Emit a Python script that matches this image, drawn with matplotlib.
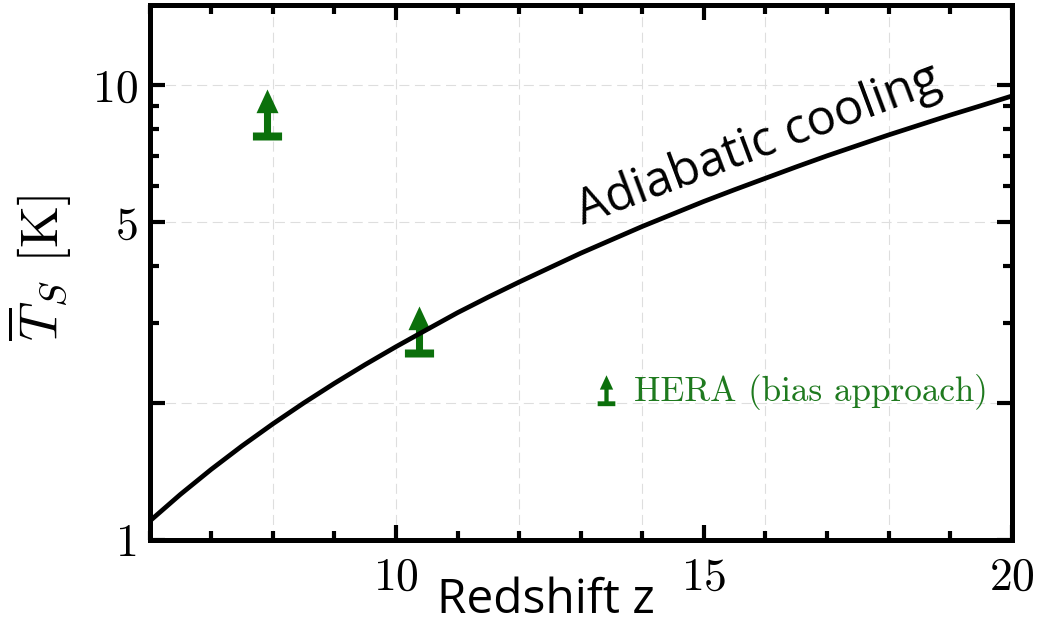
import matplotlib
matplotlib.use('Agg')
import matplotlib.pyplot as plt
from matplotlib.path import Path
from matplotlib.lines import Line2D
from matplotlib.ticker import FixedLocator, FixedFormatter, MultipleLocator, NullFormatter

plt.rcParams['font.family'] = 'cmr10'
plt.rcParams['mathtext.fontset'] = 'cm'
plt.rcParams['axes.formatter.use_mathtext'] = True

# mean spin temperature for pure adiabatic cooling
z_curve = [6, 6.5, 7, 7.5, 8, 8.5, 9, 9.5, 10, 10.5, 11, 11.5, 12, 12.5,
           13, 13.5, 14, 14.5, 15, 15.5, 16, 16.5, 17, 17.5, 18, 18.5,
           19, 19.5, 20]
ts_curve = [1.10, 1.26, 1.43, 1.61, 1.80, 2.00, 2.21, 2.43, 2.66, 2.90,
            3.16, 3.42, 3.69, 3.97, 4.27, 4.57, 4.89, 5.21, 5.55, 5.89,
            6.24, 6.61, 6.99, 7.37, 7.77, 8.17, 8.59, 9.01, 9.46]

# HERA lower limits (bias approach)
z_hera = [7.9, 10.38]
ts_hera = [7.74, 2.58]

x_ticks = [10, 15, 20]
x_grid = [8, 10, 12, 14, 16, 18]
y_ticks = [1, 2, 5, 10]
y_ticklabels = ['1', '', '5', '10']
y_minor = [3, 4, 6, 7, 8, 9]

green = '#0b700b'
text_green = '#1f7a1f'


def lower_limit_marker(shift=0.0):
    """Bar with an upward arrow; the bar sits at the path origin."""
    verts = [(-0.31, -0.085), (0.31, -0.085), (0.31, 0.085), (0.075, 0.085),
             (0.075, 0.496), (0.234, 0.496), (0.0, 1.0), (-0.234, 0.496),
             (-0.075, 0.496), (-0.075, 0.085), (-0.31, 0.085), (-0.31, -0.085)]
    verts = [(x, y - shift) for x, y in verts]
    codes = [Path.MOVETO] + [Path.LINETO] * 10 + [Path.CLOSEPOLY]
    return Path(verts, codes)


fig = plt.figure(figsize=(10.48, 6.22), dpi=100)
ax = fig.add_axes([0.1428, 0.1318, 0.8226, 0.8602])

ax.plot(z_curve, ts_curve, color='black', lw=3.4, zorder=4)
ax.plot(z_hera, ts_hera, ls='none', marker=lower_limit_marker(), ms=67.7,
        mfc=green, mec=green, mew=0, zorder=3)

ax.set_yscale('log')
ax.set_xlim(6, 20)
ax.set_ylim(1, 15)

ax.xaxis.set_major_locator(FixedLocator(x_ticks))
ax.xaxis.set_minor_locator(MultipleLocator(1))
ax.yaxis.set_major_locator(FixedLocator(y_ticks))
ax.yaxis.set_major_formatter(FixedFormatter(y_ticklabels))
ax.yaxis.set_minor_locator(FixedLocator(y_minor))
ax.yaxis.set_minor_formatter(NullFormatter())

ax.tick_params(which='both', direction='in', top=True, right=True, width=3,
               labelsize=33)
ax.tick_params(which='major', length=11)
ax.tick_params(which='minor', length=6.5)
ax.tick_params(axis='x', pad=12)
ax.tick_params(axis='y', pad=8)
for s in ax.spines.values():
    s.set_linewidth(3.6)

# dashed grid
ax.set_axisbelow(True)
ax.grid(axis='y', which='major', ls=(0, (9, 5)), color='#dedede', lw=0.8)
for zg in x_grid:
    ax.axvline(zg, ls=(0, (9, 5)), color='#dedede', lw=0.8, zorder=0)

ax.set_xlabel('Redshift z', fontfamily='Open Sans', fontsize=34.5)
ax.xaxis.set_label_coords(0.460, -0.068)
ax.set_ylabel(r'$\overline{T}_S$ [K]', fontsize=39)
ax.yaxis.set_label_coords(-0.088, 0.508)

ax.text(0.502, 0.590, 'Adiabatic cooling', transform=ax.transAxes,
        rotation=20.5, rotation_mode='anchor', ha='left', va='baseline',
        fontfamily='Open Sans', fontsize=35, zorder=5)

handle = Line2D([], [], ls='none', marker=lower_limit_marker(0.5), ms=24,
                mfc=green, mec=green, mew=0)
ax.legend([handle], ['HERA (bias approach)'], loc='center right',
          bbox_to_anchor=(0.972, 0.277), frameon=False, borderpad=0,
          borderaxespad=0, handlelength=0.8, handletextpad=0.4,
          prop={'family': 'cmr10', 'size': 25.3}, labelcolor=text_green)

fig.savefig('out.png', dpi=100)
